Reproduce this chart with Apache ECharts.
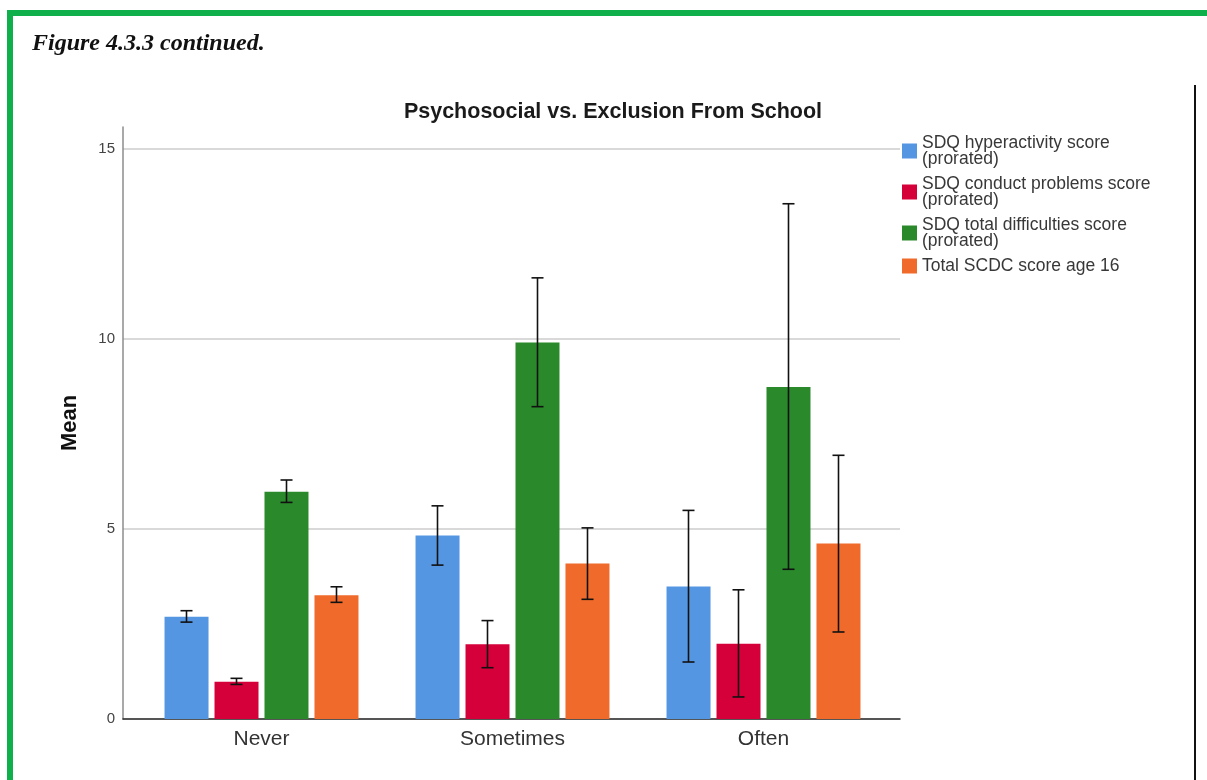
<!DOCTYPE html>
<html lang="en">
  <head>
    <meta charset="UTF-8" />
    <title>Psychosocial vs. Exclusion From School</title>
    <style>
      html,
      body {
        margin: 0;
        padding: 0;
        background: #ffffff;
        overflow: hidden;
      }
      #app {
        position: absolute;
        left: 0;
        top: 0;
        width: 1207px;
        height: 780px;
      }
      .frame {
        position: absolute;
        left: 7px;
        top: 10px;
        width: 1300px;
        height: 900px;
        border-left: 6px solid #0fb04c;
        border-top: 6px solid #0fb04c;
      }
      .rule {
        position: absolute;
        left: 1194px;
        top: 85px;
        width: 2px;
        height: 700px;
        background: #111111;
      }
    </style>
  </head>
  <body>
    <div class="frame"></div>
    <div class="rule"></div>
    <div id="app"></div>
    <script src="https://cdn.jsdelivr.net/npm/echarts@6/dist/echarts.min.js"></script>
    <script>
      var categories = ['Never', 'Sometimes', 'Often']
      var seriesNames = [
        'SDQ hyperactivity score\n(prorated)',
        'SDQ conduct problems score\n(prorated)',
        'SDQ total difficulties score\n(prorated)',
        'Total SCDC score age 16'
      ]

      // means and 95% CI ends
      var hyperMean = [2.69, 4.83, 3.49]
      var hyperLow = [2.55, 4.05, 1.5]
      var hyperHigh = [2.85, 5.61, 5.49]

      var conductMean = [0.98, 1.97, 1.98]
      var conductLow = [0.91, 1.35, 0.58]
      var conductHigh = [1.07, 2.59, 3.4]

      var totalMean = [5.98, 9.91, 8.74]
      var totalLow = [5.7, 8.22, 3.94]
      var totalHigh = [6.29, 11.61, 13.56]

      var scdcMean = [3.26, 4.09, 4.62]
      var scdcLow = [3.07, 3.15, 2.29]
      var scdcHigh = [3.48, 5.03, 6.94]

      var yMin = 0
      var yMax = 15.58
      var yStep = 5

      var colors = ['#5596e3', '#d5003a', '#2a8a2b', '#f06b2b']
      var BAR_W = 44
      var BAR_GAP = 6 / 44

      var means = [hyperMean, conductMean, totalMean, scdcMean]
      var lows = [hyperLow, conductLow, totalLow, scdcLow]
      var highs = [hyperHigh, conductHigh, totalHigh, scdcHigh]

      var font = 'Liberation Sans'

      function errorSeries(idx) {
        return {
          type: 'custom',
          xAxisIndex: 1,
          yAxisIndex: 1,
          z: 5,
          silent: true,
          data: categories.map(function (c, i) {
            return [i, lows[idx][i], highs[idx][i]]
          }),
          renderItem: function (params, api) {
            var lo = api.coord([api.value(0), api.value(1)])
            var hi = api.coord([api.value(0), api.value(2)])
            var x = lo[0] + (idx - 1.5) * BAR_W * (1 + BAR_GAP)
            var style = { stroke: '#111111', lineWidth: 1.6 }
            return {
              type: 'group',
              children: [
                { type: 'line', shape: { x1: x, y1: lo[1], x2: x, y2: hi[1] }, style: style },
                { type: 'line', shape: { x1: x - 6, y1: lo[1], x2: x + 6, y2: lo[1] }, style: style },
                { type: 'line', shape: { x1: x - 6, y1: hi[1], x2: x + 6, y2: hi[1] }, style: style }
              ]
            }
          }
        }
      }

      var series = []
      seriesNames.forEach(function (name, i) {
        series.push({
          name: name,
          type: 'bar',
          xAxisIndex: 1,
          yAxisIndex: 1,
          barWidth: BAR_W,
          barGap: (BAR_GAP * 100).toFixed(1) + '%',
          itemStyle: { color: colors[i] },
          data: means[i]
        })
      })
      seriesNames.forEach(function (name, i) {
        series.push(errorSeries(i))
      })

      var chart = echarts.init(document.getElementById('app'))
      chart.setOption({
        animation: false,
        title: [
          {
            text: 'Figure 4.3.3 continued.',
            left: 32,
            top: 32,
            padding: 0,
            textStyle: {
              fontFamily: 'Liberation Serif',
              fontStyle: 'italic',
              fontWeight: 'bold',
              fontSize: 24,
              color: '#111111'
            }
          },
          {
            text: 'Psychosocial vs. Exclusion From School',
            left: 613,
            top: 101,
            padding: 0,
            textAlign: 'center',
            textStyle: {
              fontFamily: font,
              fontWeight: 'bold',
              fontSize: 21.5,
              color: '#1a1a1a'
            }
          }
        ],
        legend: {
          orient: 'vertical',
          left: 902,
          top: 134,
          padding: 0,
          itemWidth: 15,
          itemHeight: 15,
          itemGap: 7,
          icon: 'rect',
          data: seriesNames,
          textStyle: { fontFamily: font, fontSize: 17.5, lineHeight: 16, color: '#383838' }
        },
        grid: [
          { left: 123, top: 127, width: 777, height: 592 },
          { left: 136, top: 127, width: 753, height: 592 }
        ],
        xAxis: [
          {
            type: 'category',
            gridIndex: 0,
            data: categories,
            axisLine: { lineStyle: { color: '#2a2a2a', width: 1.5 } },
            axisTick: { show: false },
            axisLabel: { show: false }
          },
          {
            type: 'category',
            gridIndex: 1,
            data: categories,
            axisLine: { show: false },
            axisTick: { show: false },
            axisLabel: { fontFamily: font, fontSize: 21, color: '#333333', margin: 10 }
          }
        ],
        yAxis: [
          {
            type: 'value',
            gridIndex: 0,
            min: yMin,
            max: yMax,
            interval: yStep,
            name: 'Mean',
            nameLocation: 'middle',
            nameGap: 42,
            nameTextStyle: { fontFamily: font, fontWeight: 'bold', fontSize: 22, color: '#111111' },
            axisLine: { show: true, lineStyle: { color: '#8c8c8c', width: 1.5 } },
            axisTick: { show: false },
            axisLabel: {
              fontFamily: font,
              fontSize: 15,
              color: '#444444',
              margin: 8,
              showMaxLabel: false,
              formatter: function (v) {
                return v % yStep === 0 ? String(v) : ''
              }
            },
            splitLine: { showMaxLine: false, lineStyle: { color: '#cccccc', width: 1.5 } }
          },
          {
            type: 'value',
            gridIndex: 1,
            min: yMin,
            max: yMax,
            interval: yStep,
            show: false
          }
        ],
        series: series
      })
    </script>
  </body>
</html>
